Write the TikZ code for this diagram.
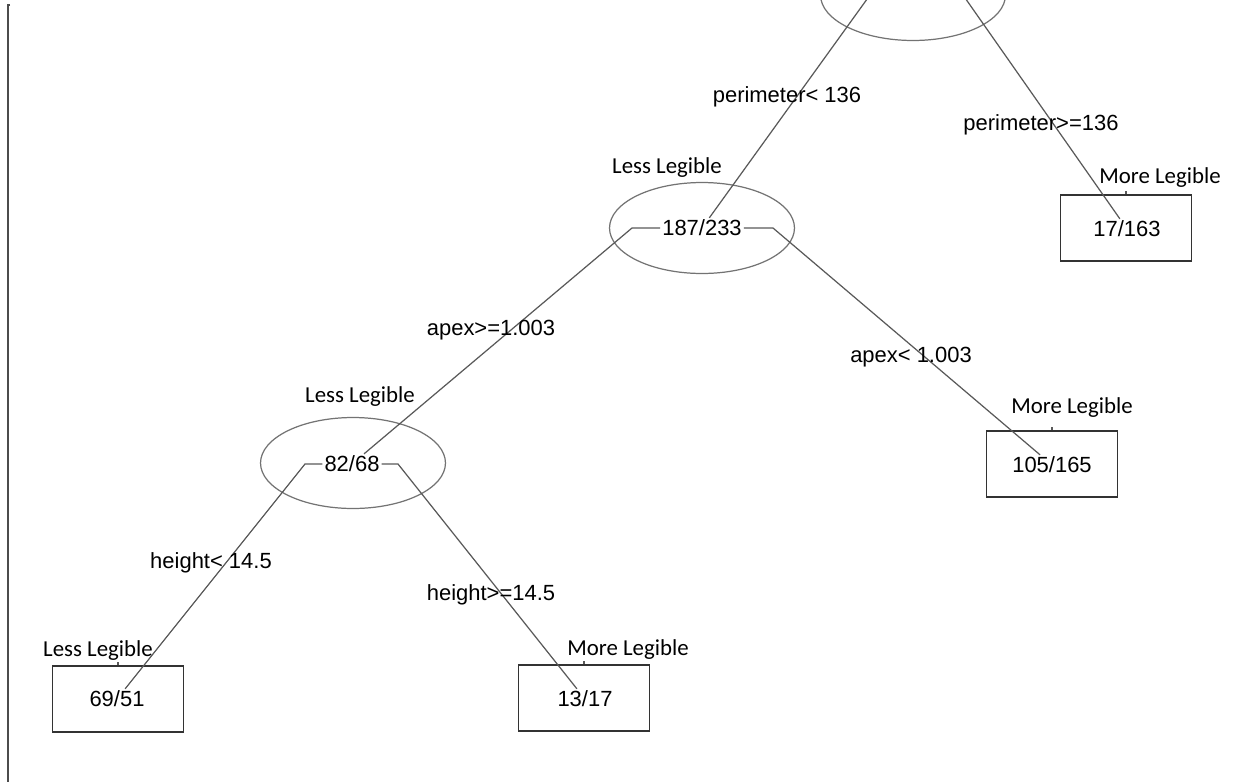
\documentclass[tikz,border=0pt]{standalone}
\usepackage{fontspec}
\setmainfont{Liberation Sans}
\newfontfamily\legfont{Carlito}
\usetikzlibrary{shapes.geometric}

\begin{document}
\begin{tikzpicture}[x=0.02cm, y=-0.02cm,
    split/.style={draw=black!55, line width=0.7pt, ellipse, minimum width=3.7cm, minimum height=1.82cm, inner sep=0pt, outer sep=0pt},
    leaf/.style={draw=black!80, line width=1pt, rectangle, minimum width=2.62cm, minimum height=1.32cm, inner sep=0pt},
    count/.style={inner sep=1pt, font=\fontsize{12.5}{15}\selectfont},
    cond/.style={inner sep=0pt, font=\fontsize{12.5}{15}\selectfont},
    cls/.style={inner sep=0pt, font=\legfont\fontsize{13}{16}\selectfont},
    branch/.style={draw=black!65, line width=0.7pt}]

    \useasboundingbox (0,0) rectangle (1249,782);
    \clip (0,0) rectangle (1249,782);

    % Frame line on the left
    \draw[black!70, line width=0.7pt] (10,5) -- (8,5) -- (8,782);

    % Root split (cut off at the top)
    \node[split] (root) at (913,-5) {};
    \coordinate (rootl) at (870,-5);
    \coordinate (rootr) at (963,-5);

    % Split on apex
    \node[split] (s187) at (702,228) {};
    \node[count] (n187) at (702,228) {187/233};
    \node[cls] at (667,168) {Less Legible};
    \coordinate (s187l) at (632,228);
    \coordinate (s187r) at (773,228);

    % Split on height
    \node[split] (s82) at (353,463) {};
    \node[count] (n82) at (352,464) {82/68};
    \node[cls] at (360,397) {Less Legible};
    \coordinate (s82l) at (305,464);
    \coordinate (s82r) at (398,464);

    % Leaves
    \node[leaf] (b17) at (1126,228) {};
    \node[count] (n17) at (1127,229) {17/163};
    \node[cls] at (1160,178) {More Legible};

    \node[leaf] (b105) at (1052,464) {};
    \node[count] (n105) at (1052,465) {105/165};
    \node[cls] at (1072,408) {More Legible};

    \node[leaf] (b69) at (118,699) {};
    \node[count] (n69) at (117,699) {69/51};
    \node[cls] at (98,651) {Less Legible};

    \node[leaf] (b13) at (584,698) {};
    \node[count] (n13) at (585,699) {13/17};
    \node[cls] at (628,650) {More Legible};

    % Branches
    \draw[branch] (rootl) -- (n187);
    \draw[branch] (rootr) -- (n17);
    \draw[branch] (n187.west) -- (s187l) -- (n82);
    \draw[branch] (n187.east) -- (s187r) -- (n105);
    \draw[branch] (n82.west) -- (s82l) -- (n69);
    \draw[branch] (n82.east) -- (s82r) -- (n13);

    % Marks on the leaves
    \draw[branch] (b17.north) -- ++(0,-3);
    \draw[branch] (b105.north) -- ++(0,-3);
    \draw[branch] (b69.north) -- ++(0,-3);
    \draw[branch] (b13.north) -- ++(0,-3);

    % Split conditions
    \node[cond] at (787,97) {perimeter< 136};
    \node[cond] at (1041,125) {perimeter>=136};
    \node[cond] at (491,330) {apex>=1.003};
    \node[cond] at (911,357) {apex< 1.003};
    \node[cond] at (211,563) {height< 14.5};
    \node[cond] at (491,595) {height>=14.5};

\end{tikzpicture}
\end{document}
